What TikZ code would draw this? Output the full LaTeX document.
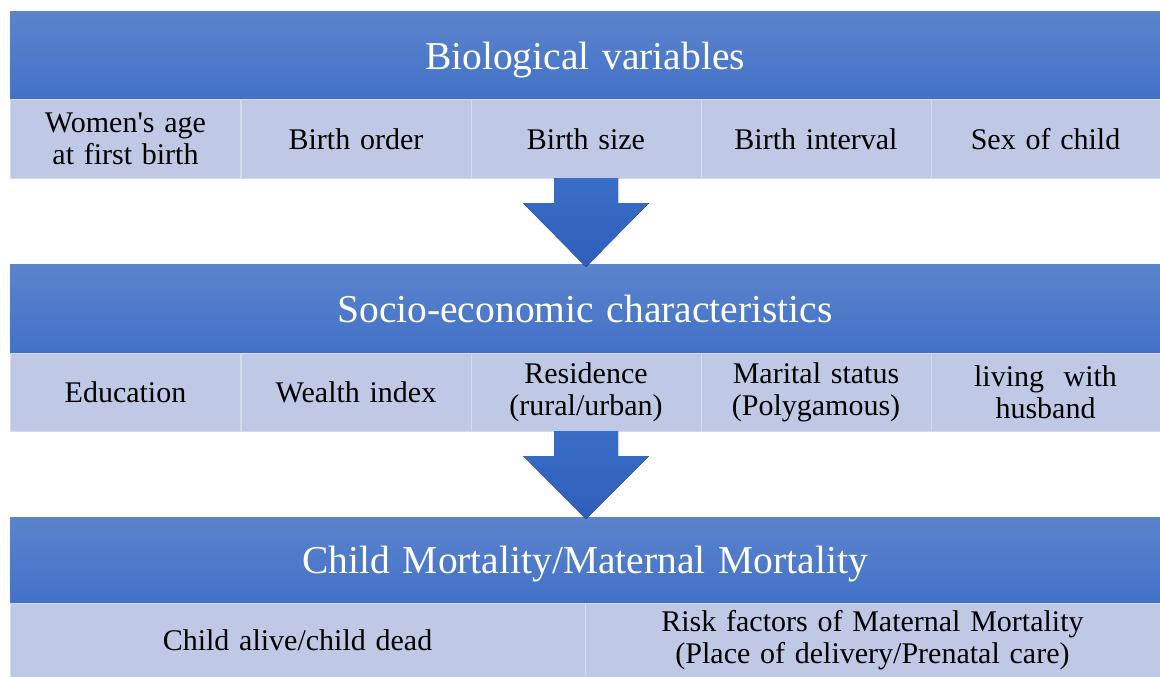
\documentclass[tikz,border=0pt]{standalone}
\usepackage{fontspec}
\setmainfont{Liberation Serif}[Ligatures=TeXOff,WordSpace=1.3]
\definecolor{hdtop}{RGB}{92,132,204}
\definecolor{hdbot}{RGB}{66,113,200}
\definecolor{cellfill}{RGB}{191,201,229}
\definecolor{cellline}{RGB}{212,219,238}
\definecolor{artop}{RGB}{58,110,198}
\definecolor{arbot}{RGB}{46,94,186}
\begin{document}
\begin{tikzpicture}[x=1pt,y=-1pt,
  header/.style={minimum width=1150pt,inner sep=0pt,outer sep=0pt,
    top color=hdtop,bottom color=hdbot,text=white,
    text height=27pt,text depth=0pt,
    font=\fontsize{39.5}{44}\selectfont},
  cell/.style={minimum height=78pt,inner sep=0pt,outer sep=0pt,
    fill=cellfill,draw=cellline,line width=1pt,align=center,
    font=\fontsize{30}{32}\selectfont},
  bigarrow/.style={top color=artop,bottom color=arbot,draw=none}]
\useasboundingbox (0,0) rectangle (1160,677);
% headers
\node[header,minimum height=88pt] (h1) at (585,56) {Biological variables};
\node[header,minimum height=89pt] (h2) at (585,308.5) {Socio-economic characteristics};
\node[header,minimum height=86pt] (h3) at (585,560) {Child Mortality/Maternal Mortality};
% row 1
\node[cell,minimum width=230pt] (a1) at (125.5,139) {Women's age\\at first birth};
\node[cell,minimum width=230pt] (a2) at (356,139) {Birth order};
\node[cell,minimum width=230pt] (a3) at (586,139) {Birth size};
\node[cell,minimum width=230pt] (a4) at (816,139) {Birth interval};
\node[cell,minimum width=229pt] (a5) at (1045.5,139) {Sex of child};
% row 2
\node[cell,minimum width=230pt] (b1) at (125.5,392) {Education};
\node[cell,minimum width=230pt] (b2) at (356,392) {Wealth index};
\node[cell,minimum width=230pt] (b3) at (586,392) {Residence\\(rural/urban)};
\node[cell,minimum width=230pt] (b4) at (816,392) {Marital status\\(Polygamous)};
\node[cell,minimum width=229pt] (b5) at (1045.5,392) {living \ with\\husband};
% row 3
\node[cell,minimum width=575pt,minimum height=74pt] (c1) at (297.5,640) {Child alive/child dead};
\node[cell,minimum width=575pt,minimum height=74pt] (c2) at (872.5,640) {Risk factors of Maternal Mortality\\(Place of delivery/Prenatal care)};
% arrows
\coordinate (t1) at (586,267);
\coordinate (t2) at (586,519);
\fill[bigarrow] (554,178) -- (618,178) -- (618,203) -- (649,203) -- (t1) -- (523,203) -- (554,203) -- cycle;
\fill[bigarrow] (554,431) -- (618,431) -- (618,456) -- (649,456) -- (t2) -- (523,456) -- (554,456) -- cycle;
\end{tikzpicture}
\end{document}
